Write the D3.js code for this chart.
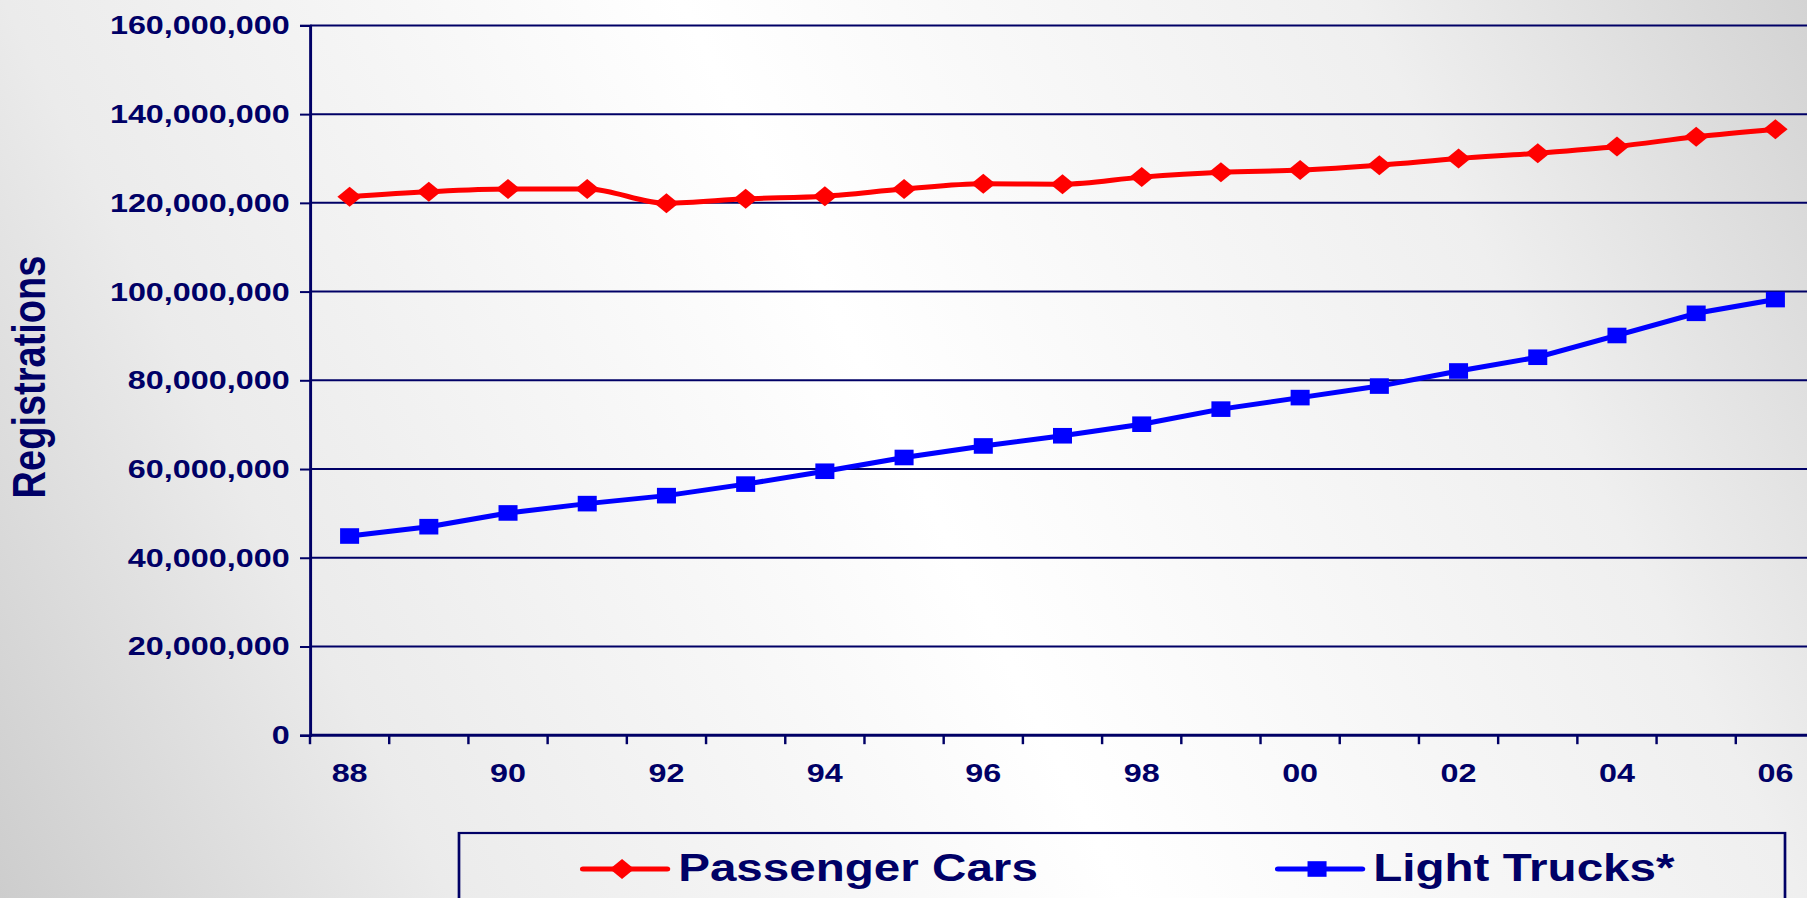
<!DOCTYPE html>
<html>
<head>
<meta charset="utf-8">
<script src="https://cdn.jsdelivr.net/npm/d3@7"></script>
<style>
  html, body { margin:0; padding:0; overflow:hidden; background:#fff; }
  svg { display:block; font-family:"Liberation Sans", Arial, sans-serif; font-weight:bold; }
</style>
</head>
<body>
<svg id="chart" width="1807" height="898"></svg>
<script>
/* Registrations 1988-2006: passenger cars vs light trucks.
   Values in millions. */
var years = ["88","89","90","91","92","93","94","95","96","97","98","99","00","01","02","03","04","05","06"];
var yearLabels = ["88","90","92","94","96","98","00","02","04","06"];
var passengerCars = [121.4,122.5,123.1,123.1,119.9,120.9,121.5,123.1,124.3,124.2,125.8,126.9,127.4,128.5,130.0,131.2,132.7,134.9,136.6];
var lightTrucks   = [44.9,47.0,50.1,52.2,54.0,56.6,59.5,62.6,65.2,67.5,70.1,73.5,76.1,78.7,82.1,85.2,90.1,95.1,98.2];
var yTicks = [0,20,40,60,80,100,120,140,160];
var seriesNames = ["Passenger Cars","Light Trucks*"];

(function () {
  "use strict";
  var NAVY="#000066", RED="#ff0000", BLUE="#0000ff";
  var W=1807, H=898, S=1.22;           // the picture is stretched sideways; draw in natural units, scale x by S
  var left=310/S, right=1815/S, top=25.4, bottom=735.2;

  var svg=d3.select("#chart");
  var defs=svg.append("defs");
  var gr=defs.append("linearGradient").attr("id","bg").attr("gradientUnits","userSpaceOnUse")
    .attr("x1",0).attr("y1",H).attr("x2",W).attr("y2",0);
  [[0,"#cdcdcd"],[0.2,"#ebebeb"],[0.5,"#ffffff"],[0.8,"#efefef"],[1,"#d3d3d3"]].forEach(function(s){
    gr.append("stop").attr("offset",s[0]).attr("stop-color",s[1]);
  });
  svg.append("rect").attr("width",W).attr("height",H).attr("fill","url(#bg)");

  var g=svg.append("g").attr("transform","scale("+S+",1)");

  var x=d3.scaleBand().domain(years).range([left,right]).padding(0);
  var y=d3.scaleLinear().domain([0,160]).range([bottom,top]);
  var cx=function(d){ return x(d)+x.bandwidth()/2; };

  // gridlines
  g.append("g").selectAll("line").data(yTicks.filter(function(t){return t>0;})).join("line")
    .attr("x1",left).attr("x2",right).attr("y1",function(d){return y(d);}).attr("y2",function(d){return y(d);})
    .attr("stroke",NAVY).attr("stroke-width",2);

  // y axis
  var ya=g.append("g").attr("transform","translate("+left+",0)")
    .call(d3.axisLeft(y).tickValues(yTicks).tickSize(8.2).tickPadding(8.5)
      .tickFormat(function(d){ return d3.format(",")(d*1e6); }));
  ya.select(".domain").attr("stroke",NAVY).attr("stroke-width",2.4);
  ya.selectAll(".tick line").attr("stroke",NAVY).attr("stroke-width",2);
  ya.selectAll("text").attr("fill",NAVY).attr("font-size",26.5).attr("font-family",null);

  // x axis: ticks between categories, labels every other year
  var xa=g.append("g").attr("transform","translate(0,"+bottom+")");
  xa.append("line").attr("x1",left).attr("x2",right).attr("stroke",NAVY).attr("stroke-width",3);
  xa.selectAll(".xt").data(years).join("line").attr("class","xt")
    .attr("x1",function(d){return x(d);}).attr("x2",function(d){return x(d);})
    .attr("y1",0).attr("y2",9).attr("stroke",NAVY).attr("stroke-width",2);
  xa.selectAll(".xl").data(yearLabels).join("text").attr("class","xl")
    .attr("x",cx).attr("y",46.5).attr("text-anchor","middle")
    .attr("fill",NAVY).attr("font-size",26.5).text(function(d){return d;});

  // y title
  g.append("text").attr("transform","translate("+(45/S)+",377) rotate(-90)")
    .attr("text-anchor","middle").attr("fill",NAVY).attr("font-size",38).text("Registrations");

  var diamond="M0,-10L10,0L0,10L-10,0Z", square="M-7.8,-7.8H7.8V7.8H-7.8Z";

  // series
  var redLine=d3.line().x(function(d,i){return cx(years[i]);}).y(function(d){return y(d);}).curve(d3.curveMonotoneX);
  var blueLine=d3.line().x(function(d,i){return cx(years[i]);}).y(function(d){return y(d);});
  g.append("path").attr("d",redLine(passengerCars)).attr("fill","none").attr("stroke",RED)
    .attr("stroke-width",5).attr("stroke-linejoin","round");
  g.append("path").attr("d",blueLine(lightTrucks)).attr("fill","none").attr("stroke",BLUE)
    .attr("stroke-width",5).attr("stroke-linejoin","round");
  g.append("g").selectAll("path").data(passengerCars).join("path").attr("d",diamond).attr("fill",RED)
    .attr("transform",function(d,i){return "translate("+cx(years[i])+","+y(d)+")";});
  g.append("g").selectAll("path").data(lightTrucks).join("path").attr("d",square).attr("fill",BLUE)
    .attr("transform",function(d,i){return "translate("+cx(years[i])+","+y(d)+")";});

  // legend
  g.append("rect").attr("x",459/S).attr("y",833).attr("width",(1785-459)/S).attr("height",120)
    .attr("fill","none").attr("stroke",NAVY).attr("stroke-width",2.2);
  var items=[{name:seriesNames[0],col:RED,sym:diamond,x0:583},{name:seriesNames[1],col:BLUE,sym:square,x0:1278}];
  items.forEach(function(it){
    var lx=it.x0/S, ly=869;
    g.append("line").attr("x1",lx).attr("x2",lx+69).attr("y1",ly).attr("y2",ly)
      .attr("stroke",it.col).attr("stroke-width",5).attr("stroke-linecap","round");
    g.append("path").attr("d",it.sym).attr("fill",it.col).attr("transform","translate("+(lx+32)+","+ly+")");
    g.append("text").attr("x",lx+78).attr("y",881.5).attr("fill",NAVY).attr("font-size",39).text(it.name);
  });
})();
</script>
</body>
</html>
